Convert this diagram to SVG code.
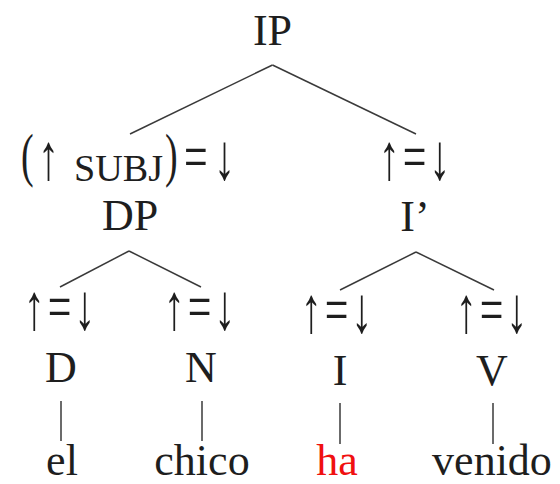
<svg xmlns="http://www.w3.org/2000/svg" width="560" height="484" viewBox="0 0 560 484">
<style>
text{font-family:"Liberation Serif","DejaVu Serif",serif;font-size:44px;fill:#1e1e1e;text-anchor:middle}
.f{font-size:42px;letter-spacing:3px}
.s{font-size:42px;text-anchor:start}
.pr{font-size:38px}
.sc{font-size:24px}
.red{fill:#f01010}
line{stroke:#3a3a3a;stroke-width:1.5}
</style>
<rect width="560" height="484" fill="#fff"/>
<g id="connectors">
<line x1="272.5" y1="65" x2="130" y2="134"/>
<line x1="272.5" y1="65" x2="416" y2="134"/>
<line x1="129" y1="251" x2="60" y2="287"/>
<line x1="129" y1="251" x2="201" y2="287"/>
<line x1="416" y1="252" x2="340" y2="290"/>
<line x1="416" y1="252" x2="494" y2="290"/>
<line x1="61" y1="401" x2="61" y2="441"/>
<line x1="202" y1="401" x2="202" y2="441"/>
<line x1="340" y1="403" x2="340" y2="444"/>
<line x1="493" y1="403" x2="493" y2="444"/>
</g>
<g id="IP"><text x="272.5" y="45">IP</text></g>
<g id="DP"><text class="s" transform="translate(0,178.5) scale(1,1.55)"><tspan class="pr" x="21" dy="-2">(</tspan><tspan x="38" dy="2">↑ </tspan><tspan class="sc" x="74" dy="1.8" textLength="89" lengthAdjust="spacingAndGlyphs">SUBJ</tspan><tspan class="pr" x="165" dy="-3.8">)</tspan><tspan x="184" dy="2">=</tspan><tspan x="214">↓</tspan></text><text x="130" y="230">DP</text></g>
<g id="Ibar"><text class="f" transform="translate(416,178.5) scale(1,1.55)">↑=↓</text><text x="415" y="231">I’</text></g>
<g id="D"><text class="f" transform="translate(61,329) scale(1,1.55)">↑=↓</text><text x="61" y="382">D</text></g>
<g id="N"><text class="f" transform="translate(201,329) scale(1,1.55)">↑=↓</text><text x="201" y="382">N</text></g>
<g id="I"><text class="f" transform="translate(338,332) scale(1,1.55)">↑=↓</text><text x="340" y="385">I</text></g>
<g id="V"><text class="f" transform="translate(493,332) scale(1,1.55)">↑=↓</text><text x="492" y="385">V</text></g>
<g id="el"><text x="62" y="475">el</text></g>
<g id="chico"><text x="202" y="475">chico</text></g>
<g id="ha"><text class="red" x="337" y="475">ha</text></g>
<g id="venido"><text x="492" y="475">venido</text></g>
</svg>
